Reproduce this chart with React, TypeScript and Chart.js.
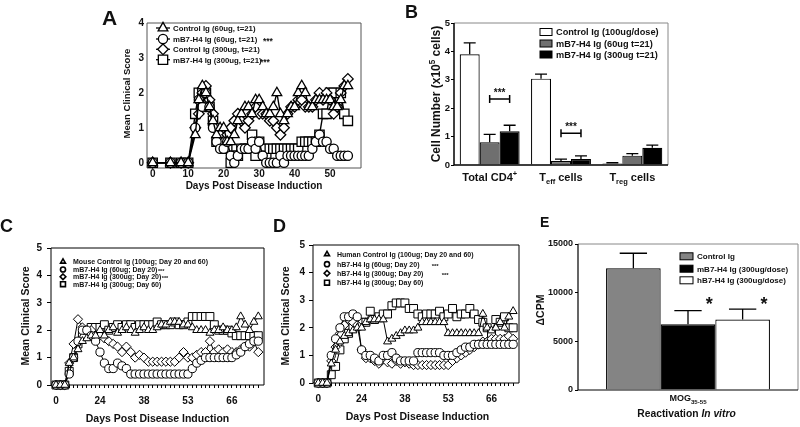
import React, { useEffect, useRef } from "react";
import { Chart, registerables } from "chart.js";

Chart.register(...registerables);

const FAMILY = "'Liberation Sans', Arial, Helvetica, sans-serif";
const INK = "#111111";
Chart.defaults.font.family = FAMILY;

/* ---------------- Panel A ---------------- */
const aDays = [0, 5, 8, 10, 12, 13, 14, 15, 16, 17, 18, 19, 20, 21, 22, 23, 24, 25, 26, 27, 28, 29, 30, 31, 32, 33, 34, 35, 36, 37, 38, 39, 40, 41, 42, 43, 44, 45, 46, 47, 48, 49, 50, 51, 52, 53, 54, 55];
const aControl60 = [0, 0, 0, 0,
  0.8, 1.8, 2.2, 2.0, 1.6, 1.2, 0.8, 1.0, 1.0, 0.6,
  0.6, 0.8, 1.2, 1.4, 1.6, 1.6, 1.4, 1.8, 1.8, 1.6,
  1.4, 1.4, 1.6, 2.0, 1.4, 1.2, 1.4, 1.6, 1.6, 2.0,
  2.2, 2.0, 1.6, 1.6, 1.8, 1.8, 1.8, 1.8, 1.8, 1.6,
  1.6, 1.8, 2.2, 2.2];
const aMB7H4_60 = [0, 0, 0, 0,
  1.0, 1.8, 1.6, 2.0, 1.6, 1.0, 0.6, 0.4, 0.4, 0.6,
  0.2, 0.0, 0.2, 0.4, 0.4, 0.4, 0.6, 0.4, 0.6, 0.2,
  0.0, 0.0, 0.0, 0.0, 0.2, 0.0, 0.2, 0.2, 0.2, 0.2,
  0.2, 0.2, 0.2, 0.4, 0.6, 0.8, 0.6, 0.6, 0.4, 0.4,
  0.2, 0.2, 0.2, 0.2];
const aControl300 = [0, 0, 0, 0,
  1.0, 1.4, 2.0, 2.2, 1.8, 1.4, 1.0, 0.8, 0.6, 0.8,
  1.0, 1.2, 1.4, 1.2, 1.0, 1.2, 1.4, 1.6, 1.4, 1.4,
  1.4, 1.2, 1.2, 1.0, 0.8, 1.0, 1.4, 1.6, 1.6, 1.8,
  1.8, 1.6, 1.6, 1.6, 1.8, 2.0, 1.8, 2.0, 1.8, 1.4,
  1.6, 2.0, 2.2, 2.4];
const aMB7H4_300 = [0, 0, 0, 0,
  1.4, 2.0, 2.0, 2.0, 1.6, 1.2, 0.6, 0.8, 0.8, 0.4,
  0.0, 0.2, 0.2, 0.4, 0.4, 0.4, 0.8, 0.2, 0.6, 0.4,
  0.2, 0.4, 0.4, 0.4, 0.4, 0.4, 0.4, 0.4, 0.4, 0.4,
  0.6, 0.6, 0.6, 0.6, 0.6, 0.8, 1.4, 1.4, 2.0, 2.0,
  1.6, 2.0, 1.4, 1.2];
const aSeriesNames = ["Control Ig (60ug, t=21)", "mB7-H4 Ig (60ug, t=21)", "Control Ig (300ug, t=21)", "mB7-H4 Ig (300ug, t=21)"];
const aSignificance = ["", "***", "", "***"];
const aXTicks = [0, 10, 20, 30, 40, 50];
const aYTicks = [0, 1, 2, 3, 4];

/* ---------------- Panel B ---------------- */
const bCategories = ["Total CD4+", "Teff cells", "Treg cells"];
const bSeriesNames = ["Control Ig (100ug/dose)", "mB7-H4 Ig (60ug t=21)", "mB7-H4 Ig (300ug t=21)"];
const bControl = [3.9, 3.04, 0.05];
const bControlErr = [0.4, 0.16, 0.03];
const bMB7H4_60 = [0.8, 0.14, 0.33];
const bMB7H4_60Err = [0.28, 0.07, 0.07];
const bMB7H4_300 = [1.19, 0.21, 0.61];
const bMB7H4_300Err = [0.21, 0.11, 0.09];
const bSigCategory = [0, 1];
const bSigLevel = [2.32, 1.12];
const bSigText = ["***", "***"];
const bYTicks = [0, 1, 2, 3, 4, 5];

/* ---------------- Panel C ---------------- */
const cTickIndex = [0, 10, 20, 30, 40];
const cTickText = ["0", "24", "38", "53", "66"];
const cMouseControl = [0, 0, 0, 0.8, 1.0, 1.3, 1.6, 1.7, 1.8, 1.8,
  2.0, 1.8, 2.0, 2.1, 1.9, 2.0, 2.1, 2.0, 1.9, 2.0,
  2.1, 2.0, 2.0, 2.1, 2.2, 2.2, 2.3, 2.3, 2.3, 2.2,
  2.2, 2.1, 2.0, 2.0, 2.0, 1.9, 2.0, 2.0, 2.1, 2.0,
  2.0, 2.1, 2.5, 2.2, 2.0, 2.3, 2.5];
const cMB7H4_60d20 = [0, 0, 0, 0.4, 1.0, 1.6, 2.0, 2.0, 1.8, 1.6,
  1.2, 0.8, 0.6, 0.6, 0.8, 0.7, 0.6, 0.4, 0.4, 0.4,
  0.4, 0.4, 0.4, 0.4, 0.4, 0.4, 0.4, 0.4, 0.4, 0.4,
  0.4, 0.6, 0.8, 0.9, 1.0, 1.0, 1.0, 1.0, 1.0, 1.0,
  1.0, 1.1, 1.2, 1.4, 1.5, 1.6, 1.6];
const cMB7H4_300d20 = [0, 0, 0, 0.8, 1.5, 2.4, 2.1, 2.0, 2.0, 1.8,
  1.8, 1.7, 1.6, 1.5, 1.4, 1.2, 1.4, 1.2, 1.0, 1.1,
  1.0, 0.85, 0.85, 0.85, 0.85, 0.85, 0.85, 0.85, 1.0, 1.2,
  1.0, 1.0, 1.1, 1.2, 1.2, 1.6, 1.2, 1.3, 1.2, 1.3,
  1.2, 1.2, 1.3, 1.4, 1.4, 1.6, 1.2];
const cMB7H4_300d60 = [0, 0, 0, 0.5, 1.0, 1.5, 1.8, 2.0, 2.1, 2.1,
  2.1, 2.2, 2.0, 2.1, 2.2, 2.1, 2.2, 2.2, 2.1, 2.2,
  2.2, 2.2, 2.2, 2.3, 2.2, 2.2, 2.2, 2.3, 2.2, 2.2,
  2.3, 2.5, 2.5, 2.5, 2.5, 2.5, 2.2, 2.0, 2.0, 2.0,
  1.9, 1.8, 1.8, 1.8, 1.8, 1.8, 1.8];
const cSeriesNames = ["Mouse Control Ig (100ug; Day 20 and 60)", "mB7-H4 Ig (60ug; Day 20)", "mB7-H4 Ig (300ug; Day 20)", "mB7-H4 Ig (300ug; Day 60)"];
const cSignificance = ["", "***", "***", ""];

/* ---------------- Panel D ---------------- */
const dTickIndex = [0, 10, 20, 30, 40];
const dTickText = ["0", "24", "38", "53", "66"];
const dHumanControl = [0, 0, 0, 0.7, 1.2, 1.5, 1.7, 1.8, 1.9, 2.0,
  2.0, 2.2, 2.3, 2.3, 2.3, 2.3, 1.5, 1.6, 1.7, 1.8,
  1.9, 1.9, 1.9, 2.0, 2.2, 2.2, 2.2, 2.2, 2.2, 2.2,
  1.8, 1.8, 1.8, 1.8, 1.8, 1.8, 1.8, 1.8, 2.5, 2.0,
  1.9, 2.0, 2.2, 2.0, 2.4, 2.6];
const dHB7H4_60d20 = [0, 0, 0, 1.0, 1.6, 2.0, 2.4, 2.4, 2.5, 2.4,
  1.2, 1.0, 1.0, 0.9, 0.8, 1.0, 1.0, 1.1, 0.9, 0.8,
  0.8, 0.8, 0.8, 1.1, 1.1, 1.1, 1.1, 1.1, 1.1, 1.0,
  1.0, 1.0, 1.1, 1.2, 1.3, 1.3, 1.4, 1.4, 1.4, 1.4,
  1.4, 1.4, 1.4, 1.4, 1.4, 1.4];
const dHB7H4_300d20 = [0, 0, 0, 0.8, 1.3, 1.8, 2.1, 2.3, 2.2, 2.1,
  1.2, 0.9, 0.9, 0.8, 0.7, 0.9, 0.75, 0.7, 0.8, 0.7,
  0.75, 0.7, 0.65, 0.65, 0.65, 0.65, 0.65, 0.65, 0.65, 0.65,
  0.65, 0.8, 0.9, 1.0, 1.1, 1.2, 1.3, 1.4, 1.5, 1.5,
  1.6, 1.6, 1.6, 1.6, 1.7, 1.6];
const dHB7H4_300d60 = [0, 0, 0, 0.3, 0.6, 1.2, 1.6, 1.8, 2.0, 2.1,
  2.2, 2.2, 2.6, 2.3, 2.4, 2.5, 2.5, 2.8, 2.9, 2.9,
  2.9, 2.7, 2.7, 2.5, 2.4, 2.5, 2.5, 2.5, 2.6, 2.4,
  2.5, 2.7, 2.4, 2.5, 2.5, 2.7, 2.5, 2.3, 2.2, 2.0,
  1.8, 2.3, 2.2, 2.4, 2.0, 2.0];
const dSeriesNames = ["Human Control Ig (100ug; Day 20 and 60)", "hB7-H4 Ig (60ug; Day 20)", "hB7-H4 Ig (300ug; Day 20)", "hB7-H4 Ig (300ug; Day 60)"];
const dSignificance = ["", "***", "***", ""];

/* ---------------- Panel E ---------------- */
const eCategories = ["MOG35-55"];
const eSeriesNames = ["Control Ig", "mB7-H4 Ig (300ug/dose)", "hB7-H4 Ig (300ug/dose)"];
const eControl = [12500];
const eControlErr = [1550];
const eMB7H4 = [6750];
const eMB7H4Err = [1400];
const eHB7H4 = [7250];
const eHB7H4Err = [1050];
const eSignificance = ["", "*", "*"];
const eStarLevel = 9250;
const eYTicks = [0, 5000, 10000, 15000];

/* ---------------- helpers ---------------- */
type Seg = { t: string; k?: "sub" | "sup" | "it" };
const plain = (t: string): Seg[] => [{ t }];

const bCategoryRich: Seg[][] = [
  [{ t: "Total CD4" }, { t: "+", k: "sup" }],
  [{ t: "T" }, { t: "eff", k: "sub" }, { t: " cells" }],
  [{ t: "T" }, { t: "reg", k: "sub" }, { t: " cells" }],
];
const eCategoryRich: Seg[][] = [[{ t: "MOG" }, { t: "35-55", k: "sub" }]];

function segFont(s: Seg, size: number) {
  const small = s.k === "sub" || s.k === "sup";
  return `${s.k === "it" ? "italic " : ""}bold ${small ? size * 0.68 : size}px ${FAMILY}`;
}

function drawRich(ctx: any, segs: Seg[], x: number, y: number, size: number, align = "center", rot = 0) {
  ctx.save();
  ctx.translate(x, y);
  if (rot) ctx.rotate(rot);
  let total = 0;
  for (const s of segs) {
    ctx.font = segFont(s, size);
    total += ctx.measureText(s.t).width;
  }
  let cx = align === "center" ? -total / 2 : align === "right" ? -total : 0;
  ctx.textAlign = "left";
  ctx.textBaseline = "alphabetic";
  ctx.fillStyle = INK;
  const base = size * 0.36;
  for (const s of segs) {
    ctx.font = segFont(s, size);
    const dy = s.k === "sub" ? size * 0.28 : s.k === "sup" ? -size * 0.42 : 0;
    ctx.fillText(s.t, cx, base + dy);
    cx += ctx.measureText(s.t).width;
  }
  ctx.restore();
  return total;
}

function drawStars(ctx: any, text: string, x: number, yc: number, size: number, align = "center") {
  ctx.save();
  ctx.font = `bold ${size}px ${FAMILY}`;
  ctx.fillStyle = INK;
  ctx.textAlign = align;
  ctx.textBaseline = "alphabetic";
  ctx.fillText(text, x, yc + size * 0.58);
  ctx.restore();
}

function drawMarker(ctx: any, style: string, x: number, y: number, r: number, lw: number) {
  ctx.save();
  ctx.beginPath();
  if (style === "circle") {
    ctx.arc(x, y, r, 0, Math.PI * 2);
  } else if (style === "rect") {
    const s = r * Math.SQRT1_2;
    ctx.rect(x - s, y - s, 2 * s, 2 * s);
  } else if (style === "rectRot") {
    ctx.moveTo(x, y - r);
    ctx.lineTo(x + r, y);
    ctx.lineTo(x, y + r);
    ctx.lineTo(x - r, y);
    ctx.closePath();
  } else {
    for (let k = 0; k < 3; k++) {
      const a = (k * 2 * Math.PI) / 3;
      const px = x + Math.sin(a) * r;
      const py = y - Math.cos(a) * r;
      if (k === 0) ctx.moveTo(px, py);
      else ctx.lineTo(px, py);
    }
    ctx.closePath();
  }
  ctx.fillStyle = "#ffffff";
  ctx.fill();
  ctx.lineWidth = lw;
  ctx.strokeStyle = "#000000";
  ctx.stroke();
  ctx.restore();
}

function lineSeries(label: string, xs: number[], ys: number[], style: string, radius: number, lw: number, plw: number) {
  return {
    label,
    data: xs.map((x, i) => ({ x, y: ys[i] })),
    pointStyle: style,
    pointRadius: radius,
    pointHoverRadius: radius,
    pointBackgroundColor: "#ffffff",
    pointBorderColor: "#000000",
    pointBorderWidth: plw,
    borderColor: "#000000",
    backgroundColor: "#ffffff",
    borderWidth: lw,
    tension: 0,
    fill: false,
    clip: false,
  };
}

function axis(min: number, max: number, ticks: number[], size: number, fontSize: number, tickLen: number, pad: number, horizontal: boolean, label?: (v: number) => string) {
  return {
    type: "linear",
    min,
    max,
    afterBuildTicks: (s: any) => {
      s.ticks = ticks.map((v) => ({ value: v }));
    },
    afterFit: (s: any) => {
      if (horizontal) s.height = size;
      else s.width = size;
    },
    grid: { display: tickLen > 0, drawOnChartArea: false, drawTicks: tickLen > 0, tickLength: tickLen, color: "#000000", lineWidth: 1 },
    border: { display: false },
    ticks: {
      color: INK,
      font: { family: FAMILY, size: fontSize, weight: "bold" },
      padding: pad,
      autoSkip: false,
      maxRotation: 0,
      minRotation: 0,
      callback: (v: number) => (label ? label(v) : String(v)),
    },
  };
}

const frame = (axisColor: string, axisLw: number, boxColor: string, boxLw: number, after: boolean) => {
  const draw = (chart: any) => {
    const { ctx, chartArea: a } = chart;
    ctx.save();
    ctx.strokeStyle = boxColor;
    ctx.lineWidth = boxLw;
    ctx.beginPath();
    ctx.moveTo(a.left, a.top);
    ctx.lineTo(a.right, a.top);
    ctx.lineTo(a.right, a.bottom);
    ctx.stroke();
    ctx.strokeStyle = axisColor;
    ctx.lineWidth = axisLw;
    ctx.beginPath();
    ctx.moveTo(a.left, a.top);
    ctx.lineTo(a.left, a.bottom);
    ctx.lineTo(a.right, a.bottom);
    ctx.stroke();
    ctx.restore();
  };
  return after ? { id: "frame", afterDatasetsDraw: draw } : { id: "frame", beforeDatasetsDraw: draw };
};

const errorBars = (capRatio: number, lw: number) => ({
  id: "errorBars",
  afterDatasetsDraw(chart: any) {
    const { ctx } = chart;
    const y = chart.scales.y;
    chart.data.datasets.forEach((ds: any, i: number) => {
      const meta = chart.getDatasetMeta(i);
      meta.data.forEach((bar: any, j: number) => {
        const top = y.getPixelForValue(ds.data[j] + ds.errorBars[j]);
        const half = (bar.width * capRatio) / 2;
        ctx.save();
        ctx.strokeStyle = "#000000";
        ctx.lineWidth = lw;
        ctx.beginPath();
        ctx.moveTo(bar.x, bar.y);
        ctx.lineTo(bar.x, top);
        ctx.moveTo(bar.x - half, top);
        ctx.lineTo(bar.x + half, top);
        ctx.stroke();
        ctx.restore();
      });
    });
  },
});

function drawLineLegend(ctx: any, chart: any, o: any) {
  chart.data.datasets.forEach((ds: any, i: number) => {
    const y = o.rows[i];
    if (o.seg > 0) {
      ctx.save();
      ctx.strokeStyle = "#000000";
      ctx.lineWidth = o.lw;
      ctx.beginPath();
      ctx.moveTo(o.mx - o.seg, y);
      ctx.lineTo(o.mx + o.seg, y);
      ctx.stroke();
      ctx.restore();
    }
    drawMarker(ctx, ds.pointStyle, o.mx, y, ds.pointRadius * o.rScale, o.lw);
    const w = drawRich(ctx, plain(ds.label), o.tx, y, o.size, "left");
    if (o.sig[i]) {
      const sx = o.sigX ? o.sigX[i] : o.tx + w + o.sigGap;
      drawStars(ctx, o.sig[i], sx, y, o.sigSize, "left");
    }
  });
}

const baseOptions = (padding: any) => ({
  responsive: false,
  animation: false,
  events: [],
  layout: { padding },
  plugins: { legend: { display: false }, tooltip: { enabled: false } },
});

/* ---------------- chart configs ---------------- */
function configA() {
  const series = [aControl60, aMB7H4_60, aControl300, aMB7H4_300];
  const styles: [string, number][] = [["triangle", 5.6], ["circle", 4.6], ["rectRot", 5.3], ["rect", 6.6]];
  return {
    type: "line",
    data: { datasets: series.map((s, i) => lineSeries(aSeriesNames[i], aDays, s, styles[i][0], styles[i][1], 1.4, 1.3)) },
    options: {
      ...baseOptions({ top: 23, right: 19, left: 0, bottom: 0 }),
      scales: {
        x: axis(-1.6, 58.7, aXTicks, 32, 10, 0, 0, true),
        y: axis(-0.15, 4, aYTicks, 57, 10, 0, 3, false),
      },
    },
    plugins: [
      frame("#555555", 1, "#555555", 1, false),
      {
        id: "decorA",
        afterDraw(chart: any) {
          const ctx = chart.ctx;
          drawRich(ctx, plain("A"), 12, 17.5, 21, "left");
          drawRich(ctx, plain("Mean Clinical Score"), 36.5, 93.5, 9.5, "center", -Math.PI / 2);
          drawRich(ctx, plain("Days Post Disease Induction"), 164, 185, 10);
          drawLineLegend(ctx, chart, {
            rows: [28, 39, 49.3, 59.7], mx: 73, tx: 83, size: 7.8, rScale: 1, lw: 1.3, seg: 7,
            sig: aSignificance, sigSize: 8.5, sigX: [0, 173, 0, 170],
          });
        },
      },
    ],
  };
}

function configB() {
  const sets = [bControl, bMB7H4_60, bMB7H4_300];
  const errs = [bControlErr, bMB7H4_60Err, bMB7H4_300Err];
  const fills = ["#ffffff", "#6f6f6f", "#000000"];
  return {
    type: "bar",
    data: {
      labels: bCategories,
      datasets: sets.map((d, i) => ({
        label: bSeriesNames[i], data: d, errorBars: errs[i], backgroundColor: fills[i], borderColor: "#000000",
        borderWidth: 1.2, categoryPercentage: 0.84, barPercentage: 1,
      })),
    },
    options: {
      ...baseOptions({ top: 23, right: 17, left: 0, bottom: 0 }),
      scales: {
        x: {
          type: "category",
          afterFit: (s: any) => { s.height = 35; },
          grid: { display: false, drawTicks: false, tickLength: 0 },
          border: { display: false },
          ticks: { display: false },
        },
        y: axis(0, 5, bYTicks, 59, 9.5, 3, 1, false),
      },
    },
    plugins: [
      errorBars(0.6, 1.3),
      frame("#000000", 1.5, "#888888", 1, true),
      {
        id: "decorB",
        afterDraw(chart: any) {
          const ctx = chart.ctx;
          const x = chart.scales.x;
          const y = chart.scales.y;
          drawRich(ctx, plain("B"), 10, 11.5, 18, "left");
          drawRich(ctx, [{ t: "Cell Number (x10" }, { t: "5", k: "sup" }, { t: " cells)" }], 40.5, 94, 12, "center", -Math.PI / 2);
          bCategoryRich.forEach((segs, i) => drawRich(ctx, segs, x.getPixelForValue(i), 177, 11));
          const rows = [32, 43.5, 54.5];
          chart.data.datasets.forEach((ds: any, i: number) => {
            ctx.save();
            ctx.fillStyle = ds.backgroundColor;
            ctx.fillRect(145, rows[i] - 3.5, 12, 7);
            ctx.strokeStyle = "#000000";
            ctx.lineWidth = 1;
            ctx.strokeRect(145, rows[i] - 3.5, 12, 7);
            ctx.restore();
            drawRich(ctx, plain(ds.label), 161, rows[i], 9.2, "left");
          });
          bSigCategory.forEach((c, k) => {
            const x1 = chart.getDatasetMeta(1).data[c].x;
            const x2 = chart.getDatasetMeta(2).data[c].x;
            const yy = y.getPixelForValue(bSigLevel[k]);
            ctx.save();
            ctx.strokeStyle = "#000000";
            ctx.lineWidth = 1.5;
            ctx.beginPath();
            ctx.moveTo(x1, yy - 4);
            ctx.lineTo(x1, yy + 4);
            ctx.moveTo(x1, yy);
            ctx.lineTo(x2, yy);
            ctx.moveTo(x2, yy - 4);
            ctx.lineTo(x2, yy + 4);
            ctx.stroke();
            ctx.restore();
            drawStars(ctx, bSigText[k], (x1 + x2) / 2, yy - 9, 10, "center");
          });
        },
      },
    ],
  };
}

function indexLabel(idx: number[], text: string[]) {
  return (v: number) => {
    const k = idx.indexOf(v);
    return k >= 0 ? text[k] : "";
  };
}

function configC() {
  const series = [cMouseControl, cMB7H4_60d20, cMB7H4_300d20, cMB7H4_300d60];
  const styles: [string, number][] = [["triangle", 4.6], ["circle", 4.1], ["rectRot", 4.6], ["rect", 5.6]];
  const xs = cMouseControl.map((_, i) => i);
  return {
    type: "line",
    data: { datasets: series.map((s, i) => lineSeries(cSeriesNames[i], xs, s, styles[i][0], styles[i][1], 1, 1)) },
    options: {
      ...baseOptions({ top: 33, right: 11, left: 0, bottom: 0 }),
      scales: {
        x: axis(-1.14, 47.3, xs, 42, 10, 3, 7, true, indexLabel(cTickIndex, cTickText)),
        y: axis(0, 5, [0, 1, 2, 3, 4, 5], 51, 10, 4, 5, false),
      },
    },
    plugins: [
      frame("#000000", 1, "#000000", 1, false),
      {
        id: "decorC",
        afterDraw(chart: any) {
          const ctx = chart.ctx;
          drawRich(ctx, plain("C"), 0, 11, 18, "left");
          drawRich(ctx, plain("Mean Clinical Score"), 25, 101, 10.5, "center", -Math.PI / 2);
          drawRich(ctx, plain("Days Post Disease Induction"), 157.5, 203, 10.5);
          drawLineLegend(ctx, chart, {
            rows: [46.7, 54.5, 61.8, 69.2], mx: 63, tx: 73, size: 7, rScale: 0.62, lw: 1.6, seg: 0,
            sig: cSignificance, sigSize: 5.5, sigGap: 0.5,
          });
        },
      },
    ],
  };
}

function configD() {
  const series = [dHumanControl, dHB7H4_60d20, dHB7H4_300d20, dHB7H4_300d60];
  const styles: [string, number][] = [["triangle", 4.6], ["circle", 4.1], ["rectRot", 4.6], ["rect", 5.6]];
  const xs = dHumanControl.map((_, i) => i);
  return {
    type: "line",
    data: { datasets: series.map((s, i) => lineSeries(dSeriesNames[i], xs, s, styles[i][0], styles[i][1], 1, 1)) },
    options: {
      ...baseOptions({ top: 30, right: 11, left: 0, bottom: 0 }),
      scales: {
        x: axis(-1.22, 46.35, xs, 44, 10, 3, 7, true, indexLabel(dTickIndex, dTickText)),
        y: axis(0, 5, [0, 1, 2, 3, 4, 5], 43, 10, 4, 4, false),
      },
    },
    plugins: [
      frame("#000000", 1, "#000000", 1, false),
      {
        id: "decorD",
        afterDraw(chart: any) {
          const ctx = chart.ctx;
          drawRich(ctx, plain("D"), 3, 11, 18, "left");
          drawRich(ctx, plain("Mean Clinical Score"), 15, 101, 10.5, "center", -Math.PI / 2);
          drawRich(ctx, plain("Days Post Disease Induction"), 147.5, 201, 10.5);
          drawLineLegend(ctx, chart, {
            rows: [39.2, 49.2, 58.3, 67.7], mx: 57, tx: 67, size: 7, rScale: 0.62, lw: 1.6, seg: 0,
            sig: dSignificance, sigSize: 6, sigX: [0, 161.7, 171.7, 0],
          });
        },
      },
    ],
  };
}

function configE() {
  const sets = [eControl, eMB7H4, eHB7H4];
  const errs = [eControlErr, eMB7H4Err, eHB7H4Err];
  const fills = ["#848484", "#000000", "#ffffff"];
  return {
    type: "bar",
    data: {
      labels: eCategories,
      datasets: sets.map((d, i) => ({
        label: eSeriesNames[i], data: d, errorBars: errs[i], backgroundColor: fills[i], borderColor: "#000000",
        borderWidth: 1.2, categoryPercentage: 0.745, barPercentage: 1,
      })),
    },
    options: {
      ...baseOptions({ top: 34, right: 2, left: 0, bottom: 0 }),
      scales: {
        x: {
          type: "category",
          afterFit: (s: any) => { s.height = 37; },
          grid: { display: false, drawTicks: false, tickLength: 0 },
          border: { display: false },
          ticks: { display: false },
        },
        y: axis(0, 15000, eYTicks, 48, 9, 3, 2, false),
      },
    },
    plugins: [
      errorBars(0.5, 1.3),
      frame("#000000", 1.2, "#888888", 1, true),
      {
        id: "decorE",
        afterDraw(chart: any) {
          const ctx = chart.ctx;
          const x = chart.scales.x;
          const y = chart.scales.y;
          drawRich(ctx, plain("E"), 10, 11.7, 14, "left");
          drawRich(ctx, plain("ΔCPM"), 10, 100, 10.5, "center", -Math.PI / 2);
          eCategoryRich.forEach((segs, i) => drawRich(ctx, segs, x.getPixelForValue(i), 188, 9));
          drawRich(ctx, [{ t: "Reactivation " }, { t: "In vitro", k: "it" }], 156.5, 203.5, 10.3);
          const rows = [46.3, 58.7, 70.3];
          chart.data.datasets.forEach((ds: any, i: number) => {
            ctx.save();
            ctx.fillStyle = ds.backgroundColor;
            ctx.fillRect(150, rows[i] - 3.5, 13, 7);
            ctx.strokeStyle = "#000000";
            ctx.lineWidth = 1;
            ctx.strokeRect(150, rows[i] - 3.5, 13, 7);
            ctx.restore();
            drawRich(ctx, plain(ds.label), 167, rows[i], 8, "left");
            if (eSignificance[i]) {
              const bar = chart.getDatasetMeta(i).data[0];
              drawStars(ctx, eSignificance[i], bar.x + bar.width * 0.39, y.getPixelForValue(eStarLevel), 18, "center");
            }
          });
        },
      },
    ],
  };
}

/* ---------------- components ---------------- */
function ChartCanvas({ x, y, w, h, make }: { x: number; y: number; w: number; h: number; make: () => any }) {
  const ref = useRef<HTMLCanvasElement | null>(null);
  useEffect(() => {
    if (!ref.current) return;
    const chart = new Chart(ref.current, make());
    return () => chart.destroy();
  }, [make]);
  return (
    <canvas
      ref={ref}
      width={w}
      height={h}
      style={{ position: "absolute", left: x, top: y, width: w, height: h }}
    />
  );
}

export default function App() {
  return (
    <div style={{ position: "absolute", left: 0, top: 0, width: 800, height: 427, background: "#ffffff", overflow: "hidden" }}>
      <ChartCanvas x={90} y={0} w={290} h={200} make={configA} />
      <ChartCanvas x={395} y={0} w={290} h={200} make={configB} />
      <ChartCanvas x={0} y={215} w={275} h={212} make={configC} />
      <ChartCanvas x={270} y={215} w={260} h={212} make={configD} />
      <ChartCanvas x={530} y={210} w={270} h={217} make={configE} />
    </div>
  );
}
